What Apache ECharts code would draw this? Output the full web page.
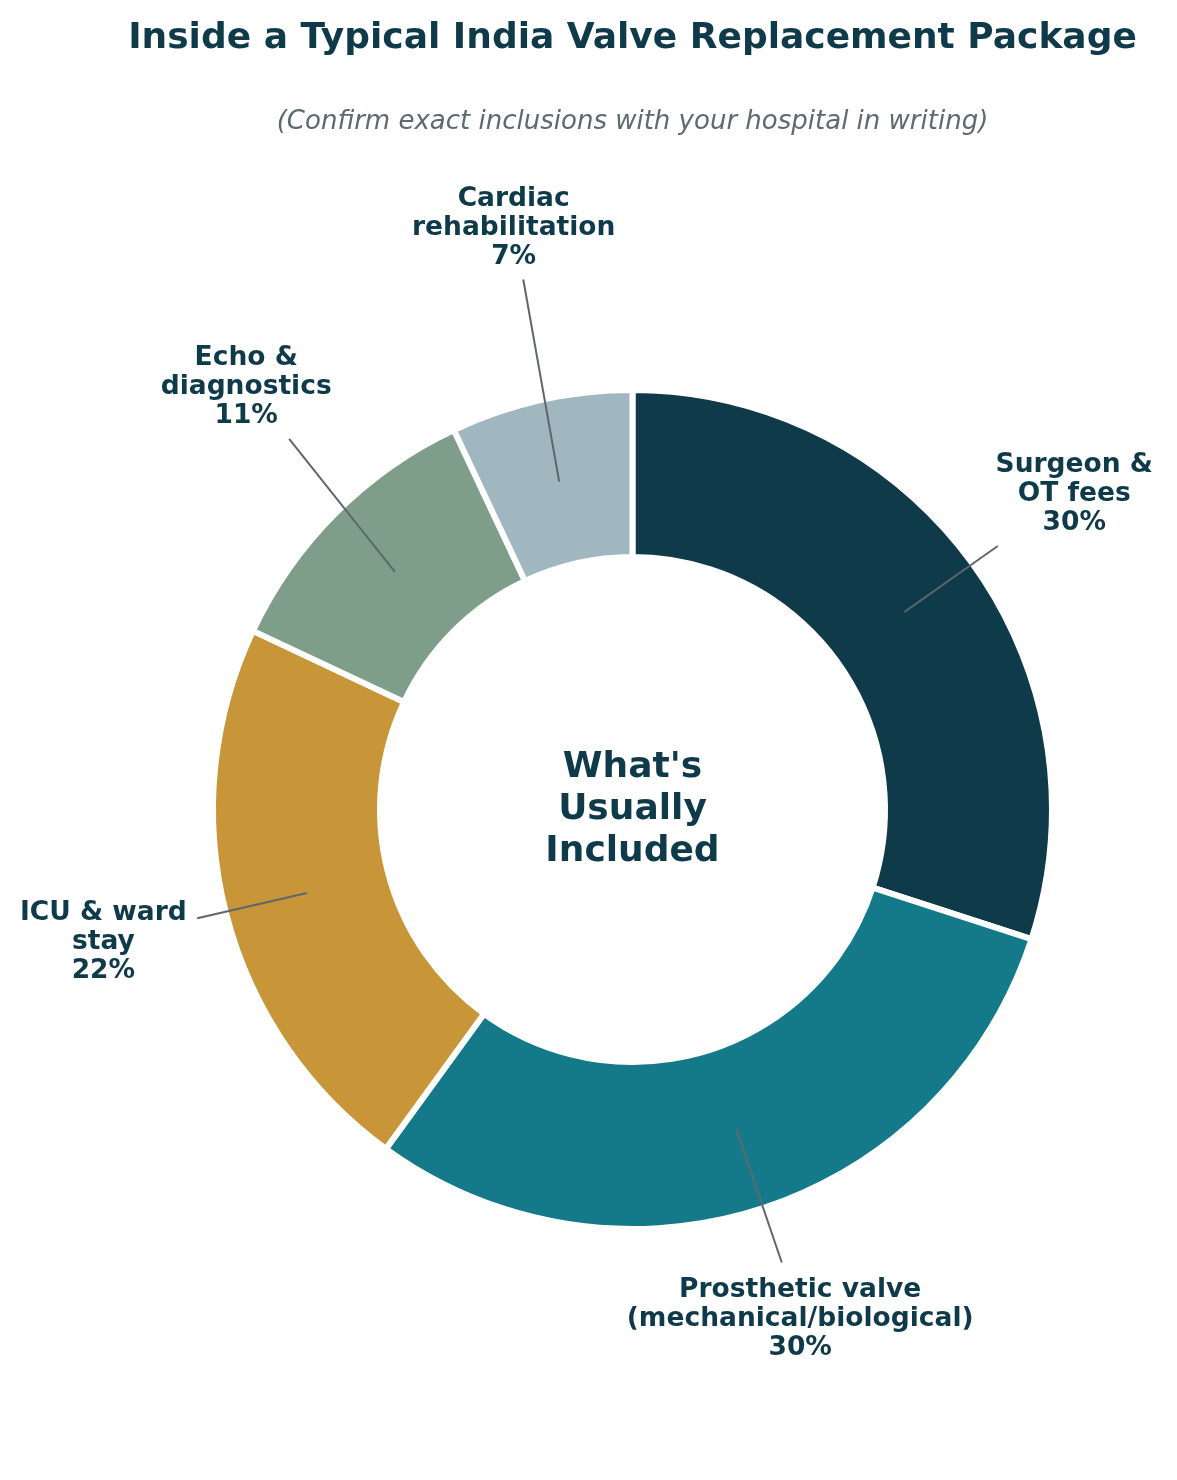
<!DOCTYPE html>
<html>
<head>
<meta charset="utf-8">
<script src="https://cdn.jsdelivr.net/npm/echarts@6/dist/echarts.min.js"></script>
<style>
  html, body { margin: 0; padding: 0; background: #ffffff; }
  #chart { width: 1177px; height: 1480px; }
</style>
</head>
<body>
<div id="chart"></div>
<script>
// ---- data ----
const categories = [
  'Surgeon &\nOT fees',
  'Prosthetic valve\n(mechanical/biological)',
  'ICU & ward\nstay',
  'Echo &\ndiagnostics',
  'Cardiac\nrehabilitation'
];
const shares = [30, 30, 22, 11, 7];
const titleText = 'Inside a Typical India Valve Replacement Package';
const subtitleText = '(Confirm exact inclusions with your hospital in writing)';
const centerText = "What's\nUsually\nIncluded";

// ---- styling / layout ----
const colors = ['#0e3a4a', '#147a8a', '#c89638', '#7f9e89', '#a0b7c0'];
const labelRadius = [544, 534, 545, 574, 596];
const labelAngleOffset = [-0.3, 0.3, -0.55, -2.7, -1.1];
const CX = 632.5, CY = 809.5;
const R_IN = 255.5, R_OUT = 416.5, BORDER = 6;
const R_ANCHOR = 336;
const PAD = 10.5;
const LABEL_DY = 2.5;
const FONT = 'DejaVu Sans';
const DARK = '#0e3a4a';

const total = shares.reduce((a, b) => a + b, 0);
const midAngles = [];
{
  let cum = 0;
  shares.forEach(v => {
    midAngles.push(90 - 360 * (cum + v / 2) / total);
    cum += v;
  });
}
function polar(r, deg) {
  const a = deg * Math.PI / 180;
  return [CX + r * Math.cos(a), CY - r * Math.sin(a)];
}

const chart = echarts.init(document.getElementById('chart'), null, { renderer: 'canvas' });

const pieData = categories.map((name, i) => ({ name: name, value: shares[i] }));

chart.setOption({
  backgroundColor: '#ffffff',
  animation: false,
  title: [
    {
      text: titleText,
      left: CX, top: 18, textAlign: 'center', padding: 0,
      textStyle: { fontFamily: FONT, fontSize: 36, fontWeight: 'bold', color: DARK, lineHeight: 42 }
    },
    {
      text: subtitleText,
      left: CX, top: 107, textAlign: 'center', padding: 0,
      textStyle: { fontFamily: FONT, fontSize: 26, fontStyle: 'italic', fontWeight: 'normal', color: '#5d6a6f', lineHeight: 30 }
    }
  ],
  graphic: [{
    type: 'text',
    x: CX, y: CY,
    style: {
      text: centerText,
      fill: DARK,
      font: 'bold 36px "DejaVu Sans"',
      lineHeight: 42,
      textAlign: 'center',
      textVerticalAlign: 'middle'
    },
    z: 10
  }],
  series: [
    {
      type: 'pie',
      z: 2,
      center: [CX, CY],
      radius: [R_IN - BORDER / 2, R_OUT + BORDER / 2],
      startAngle: 90,
      clockwise: true,
      silent: true,
      label: { show: false },
      labelLine: { show: false },
      itemStyle: { borderColor: '#ffffff', borderWidth: BORDER },
      data: pieData.map((d, i) => ({ name: d.name, value: d.value, itemStyle: { color: colors[i] } }))
    },
    {
      // transparent overlay carrying the labels & leader lines on top of the ring
      type: 'pie',
      z: 5,
      center: [CX, CY],
      radius: [R_IN, R_ANCHOR],
      startAngle: 90,
      clockwise: true,
      avoidLabelOverlap: false,
      silent: true,
      itemStyle: { color: 'rgba(0,0,0,0)', borderWidth: 0 },
      label: {
        show: true,
        position: 'outside',
        fontFamily: FONT,
        fontSize: 26.5,
        fontWeight: 'bold',
        color: DARK,
        lineHeight: 29,
        align: 'center',
        formatter: p => p.name + '\n' + Math.round(p.percent) + '%'
      },
      labelLine: {
        show: true,
        length: 10,
        length2: 0,
        smooth: false,
        lineStyle: { color: '#5c686c', width: 2 }
      },
      labelLayout: function (params) {
        const i = params.dataIndex;
        const ang = midAngles[i] + labelAngleOffset[i];
        const c = polar(labelRadius[i], ang);
        const s = polar(R_ANCHOR, midAngles[i]);
        const w = params.labelRect.width / 2 + PAD;
        const h = params.labelRect.height / 2 + PAD;
        const dx = c[0] - s[0], dy = c[1] - s[1];
        const tx = Math.abs(dx) > 1e-6 ? 1 - w / Math.abs(dx) : -Infinity;
        const ty = Math.abs(dy) > 1e-6 ? 1 - h / Math.abs(dy) : -Infinity;
        const t = Math.max(tx, ty);
        const e = [s[0] + dx * t, s[1] + dy * t];
        return {
          x: c[0], y: c[1] + LABEL_DY,
          align: 'center', verticalAlign: 'middle',
          labelLinePoints: [s, e, e]
        };
      },
      data: pieData
    }
  ]
});
</script>
</body>
</html>
